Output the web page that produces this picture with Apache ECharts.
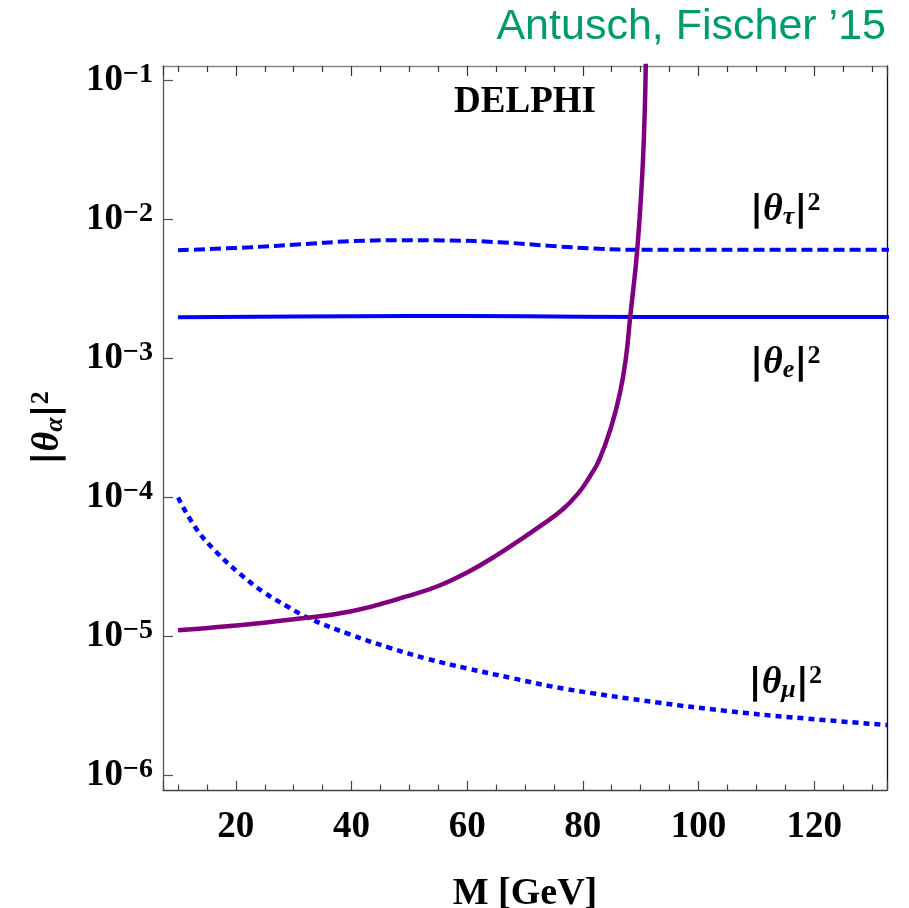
<!DOCTYPE html>
<html>
<head>
<meta charset="utf-8">
<script src="https://cdn.jsdelivr.net/npm/echarts@6/dist/echarts.min.js"></script>
<style>
html,body{margin:0;padding:0;background:#fff;}
#chart{width:909px;height:908px;}
</style>
</head>
<body>
<div id="chart"></div>
<script>
// ---- data ----
const massTau  = [10, 22.4, 31.1, 39.7, 48.3, 57.0, 65.6, 74.3, 82.9, 89.8, 100, 110, 120, 135];
const thetaTau = [6.0e-3, 6.30e-3, 6.62e-3, 6.96e-3, 7.08e-3, 7.05e-3, 6.85e-3, 6.45e-3, 6.15e-3, 6.05e-3, 6.05e-3, 6.05e-3, 6.05e-3, 6.05e-3];

const massE  = [10, 30, 50, 70, 90, 110, 135];
const thetaE = [1.98e-3, 2.0e-3, 2.02e-3, 2.01e-3, 1.99e-3, 1.99e-3, 1.99e-3];

const massMu  = [10, 13.1, 16.6, 20.6, 24.7, 29.3, 32.7, 39.6, 46.6, 52.9, 60, 68, 76.6, 93.3, 104.8, 116.3, 132.6];
const thetaMu = [1.0e-4, 6.0e-5, 4.06e-5, 2.85e-5, 2.10e-5, 1.61e-5, 1.35e-5, 1.04e-5, 8.3e-6, 6.95e-6, 5.9e-6, 5.0e-6, 4.23e-6, 3.34e-6, 2.92e-6, 2.62e-6, 2.31e-6];

const massDelphi  = [10, 19, 30, 40, 50, 55, 60, 65, 70, 72.8, 76.5, 79.2, 81.0, 82.8, 84.9, 86.4, 87.4, 88.2, 89.4, 90.4, 90.9];
const thetaDelphi = [1.11e-5, 1.19e-5, 1.33e-5, 1.52e-5, 1.97e-5, 2.31e-5, 2.89e-5, 3.82e-5, 5.24e-5, 6.3e-5, 8.2e-5, 1.07e-4, 1.37e-4, 1.85e-4, 3.22e-4, 5.6e-4, 9.7e-4, 2.0e-3, 6.0e-3, 2.66e-2, 0.14];

const xRange = [7.4, 132.6];
const yRange = [7.88e-7, 0.1268];

// annotation texts anchored at data coordinates
const annoMass  = [115, 115, 115, 70];
const annoTheta = [1.16e-2, 9.2e-4, 4.62e-6, 0.0689];
const annoText  = [
  '{bar||}{i|θ}{sub|τ}{bar||}{sup|2}',
  '{bar||}{i|θ}{sub|e}{bar||}{sup|2}',
  '{bar||}{i|θ}{sub|μ}{bar||}{sup|2}',
  '{b|DELPHI}'
];
const titleText = 'Antusch, Fischer ’15';

// ---- chart ----
const serif = 'Liberation Serif, Times New Roman, serif';
const richStyles = {
  b:   {fontFamily: serif, fontWeight: 'bold', fontSize: 37, lineHeight: 40, color: '#000'},
  bar: {fontFamily: 'DejaVu Sans', fontWeight: 'bold', fontSize: 36, lineHeight: 40, color: '#000'},
  i:   {fontFamily: serif, fontWeight: 'bold', fontStyle: 'italic', fontSize: 38, lineHeight: 40, color: '#000'},
  sub: {fontFamily: serif, fontWeight: 'bold', fontStyle: 'italic', fontSize: 26, lineHeight: 24, verticalAlign: 'bottom', color: '#000'},
  sup: {fontFamily: serif, fontWeight: 'bold', fontSize: 26, lineHeight: 24, verticalAlign: 'top', color: '#000'},
  tsup: {fontFamily: serif, fontWeight: 'bold', fontSize: 28, lineHeight: 25, verticalAlign: 'top', color: '#000'}
};
const pairs = (xs, ys) => xs.map((x, i) => [x, ys[i]]);
const toSup = e => String(e).replace('-', '−');

const chart = echarts.init(document.getElementById('chart'), null, {renderer: 'canvas'});
const option = {
  backgroundColor: '#fff',
  animation: false,
  title: {
    text: titleText,
    right: 18, top: 1,
    textStyle: {fontFamily: 'Liberation Sans, Arial, sans-serif', fontWeight: 'normal', fontSize: 43, color: '#009B6E'}
  },
  grid: {left: 163, right: 22, top: 66, bottom: 118, outerBoundsMode: 'none', containLabel: false},
  xAxis: [
    {
      type: 'value', position: 'bottom', min: xRange[0], max: xRange[1], splitNumber: 6,
      axisLine: {lineStyle: {color: '#444', width: 1.3}},
      axisTick: {inside: true, length: 9, lineStyle: {color: '#444', width: 1.2}},
      minorTick: {show: true, splitNumber: 4, length: 5.5, lineStyle: {color: '#444', width: 1.2}},
      splitLine: {show: false}, minorSplitLine: {show: false},
      axisLabel: {margin: 19, showMinLabel: false, showMaxLabel: false,
        fontFamily: serif, fontWeight: 'bold', fontSize: 37, color: '#000'},
      name: 'M [GeV]', nameLocation: 'middle', nameGap: 85,
      nameTextStyle: {fontFamily: serif, fontWeight: 'bold', fontSize: 38, color: '#000'}
    },
    {
      type: 'value', position: 'top', min: xRange[0], max: xRange[1], splitNumber: 6,
      axisLine: {lineStyle: {color: '#888', width: 1.3}},
      axisTick: {inside: true, length: 10, lineStyle: {color: '#333', width: 1.2}},
      minorTick: {show: true, splitNumber: 4, length: 6, lineStyle: {color: '#333', width: 1.2}},
      splitLine: {show: false}, axisLabel: {show: false}
    }
  ],
  yAxis: [
    {
      type: 'log', logBase: 10, position: 'left', min: yRange[0], max: yRange[1],
      axisLine: {show: true, lineStyle: {color: '#555', width: 1.3}},
      axisTick: {show: true, inside: true, length: 10, lineStyle: {color: '#555', width: 1.2}},
      splitLine: {show: false},
      axisLabel: {
        margin: 10, showMinLabel: false, showMaxLabel: false,
        formatter: v => '{b|10}{tsup|' + toSup(Math.round(Math.log10(v))) + '}',
        rich: richStyles
      },
      name: '{bar||}{i|θ}{sub|α}{bar||}{sup|2}',
      nameLocation: 'middle', nameRotate: 90, nameGap: 95,
      nameTextStyle: {rich: richStyles}
    },
    {
      type: 'log', logBase: 10, position: 'right', min: yRange[0], max: yRange[1],
      axisLine: {show: true, lineStyle: {color: '#111', width: 1.3}},
      axisTick: {show: false}, axisLabel: {show: false}, splitLine: {show: false}
    }
  ],
  series: [
    {type: 'line', name: 'tau', data: pairs(massTau, thetaTau), showSymbol: false, smooth: 0.4,
      lineStyle: {color: '#0000FF', width: 4, type: [11, 5], cap: 'butt'}},
    {type: 'line', name: 'e', data: pairs(massE, thetaE), showSymbol: false, smooth: 0.4,
      lineStyle: {color: '#0000FF', width: 4}},
    {type: 'line', name: 'mu', data: pairs(massMu, thetaMu), showSymbol: false, smooth: 0.4,
      lineStyle: {color: '#0000FF', width: 4.5, type: [6, 5], cap: 'butt'}},
    {type: 'line', name: 'delphi', data: pairs(massDelphi, thetaDelphi), showSymbol: false,
      smooth: 0.45,
      lineStyle: {color: '#800080', width: 4.5}},
    {type: 'scatter', name: 'labels', symbolSize: 0, silent: true,
      itemStyle: {opacity: 1},
      data: annoMass.map((m, i) => ({value: [m, annoTheta[i]], label: {formatter: annoText[i]}})),
      label: {show: true, position: 'inside', color: '#000', opacity: 1, textBorderWidth: 0, rich: richStyles}}
  ]
};
chart.setOption(option);
</script>
</body>
</html>
